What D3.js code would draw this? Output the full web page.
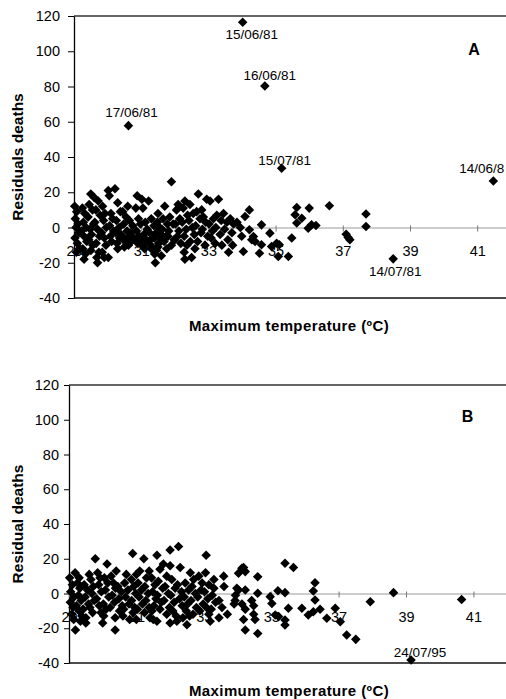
<!DOCTYPE html>
<html>
<head>
<meta charset="utf-8">
<script src="https://cdn.jsdelivr.net/npm/d3@7"></script>
<style>
  body { margin: 0; background: #fff; }
  svg { display: block; font-family: "Liberation Sans", Arial, sans-serif; }
</style>
</head>
<body>
<svg id="chart" width="506" height="699"></svg>
<script>
// temperature ticks and residual ticks, shared by both panels
const tempTicks = [29, 31, 33, 35, 37, 39, 41];
const residTicks = [-40, -20, 0, 20, 40, 60, 80, 100, 120];

// panel A: [max temperature (C), residual deaths]
const pointsA = [
  [29.02,12],[29.08,9],[29.04,5],[29.12,2],[29.06,0],[29.15,-3],[29.03,-6],[29.1,-9],[29.18,-12],[29.07,-14],
  [29.25,11],[29.32,8],[29.28,3],[29.36,0],[29.22,-2],[29.3,-5],[29.38,-8],[29.26,-12],[29.34,-15],[29.3,-18],
  [29.5,19],[29.45,13],[29.55,10],[29.42,6],[29.58,2],[29.48,-1],[29.52,-4],[29.44,-7],[29.56,-10],[29.5,-13],
  [29.72,15],[29.65,10],[29.78,7],[29.62,3],[29.7,-1],[29.76,-5],[29.66,-9],[29.74,-14],[29.68,-17],[29.7,-20],[29.6,17],
  [29.85,12],[29.92,8],[29.88,4],[29.96,0],[29.82,-3],[29.9,-6],[29.95,-10],[29.84,-14],[29.9,-17],
  [30.02,21],[30.05,18],[30.1,8],[30.15,5],[30.06,1],[30.18,-2],[30.08,-5],[30.12,-8],[30.02,-17],
  [30.22,22],[30.3,14],[30.38,9],[30.26,4],[30.34,0],[30.25,-3],[30.36,-6],[30.28,-9],[30.3,-12],
  [30.45,9],[30.55,6],[30.48,2],[30.58,-2],[30.44,-5],[30.52,-8],[30.4,-4],[30.5,-11],[30.6,12],
  [30.65,4],[30.75,1],[30.68,-3],[30.78,-6],[30.62,-10],[30.6,-6],[30.7,-8],
  [30.88,18],[30.84,11],[30.92,5],[30.98,2],[30.86,-2],[30.95,-5],[30.9,-9],[30.8,-7],
  [31.02,16],[31.05,11],[31.12,3],[31.18,-1],[31.08,-4],[31.15,-7],[31.04,-10],[31.0,-6],[31.1,-12],
  [31.22,15],[31.3,5],[31.38,1],[31.25,-3],[31.35,-6],[31.28,-10],[31.4,-15],[31.42,-20],[31.2,-8],[31.3,-12],
  [31.48,3],[31.55,0],[31.45,-3],[31.58,-6],[31.52,-9],[31.46,-13],[31.4,-6],[31.5,-11],[31.5,8],
  [31.7,12],[31.65,5],[31.78,2],[31.62,-1],[31.74,-5],[31.68,-8],[31.76,-12],[31.6,-4],[31.6,-16],
  [31.9,26],[31.85,6],[31.95,2],[31.82,-2],[31.98,-7],[31.8,-5],[31.9,-10],
  [32.05,10],[32.15,5],[32.02,2],[32.12,-2],[32.08,-5],[32.18,-9],[32.0,-7],[32.1,13],
  [32.3,15],[32.25,11],[32.38,7],[32.22,3],[32.34,-1],[32.28,-5],[32.36,-10],[32.28,-14],[32.3,-18],
  [32.45,13],[32.55,8],[32.42,4],[32.52,0],[32.58,-4],[32.46,-8],[32.5,-17],[32.6,-12],
  [32.7,19],[32.65,9],[32.75,5],[32.62,1],[32.78,-3],[32.68,-8],[32.8,10],
  [32.95,16],[32.85,6],[32.92,3],[32.82,-1],[32.98,-5],[32.9,-10],
  [33.05,15],[33.15,5],[33.02,2],[33.12,-2],[33.08,-6],[33.2,-9],
  [33.3,16],[33.25,7],[33.38,4],[33.22,0],[33.35,-4],[33.4,-10],
  [33.45,8],[33.55,3],[33.48,-1],[33.58,-7],[33.6,-14],
  [33.65,5],[33.75,2],[33.7,-3],[33.72,-10],
  [33.85,3],[33.95,0],[33.99,-5],[34.04,-13.6],
  [34.22,10],[34.09,6.2],[34.22,-1.3],[34.34,-5.1],[34.29,-7],[34.39,-7.9],
  [34.58,1.5],[34.58,-9.8],[34.52,-14.6],[34.83,-3.2],[34.88,-10.8],[35.03,-8.9],[35.11,-9.8],
  [35.08,-16.4],[35.38,-16.4],[35.48,-6],[35.63,11.3],[35.58,7.2],[35.63,2.5],[35.78,5.3],
  [36.0,11],[35.97,-0.4],[36.07,1.5],[36.2,1.1],[36.6,12.3],
  [37.1,-3.8],[37.16,-5.7],[37.21,-7],[37.69,7.6],[37.69,0.6]
];
// panel A labelled days
const notesA = [
  { date: "15/06/81", temp: 34.02, resid: 116.4 },
  { date: "16/06/81", temp: 34.68, resid: 80.3 },
  { date: "17/06/81", temp: 30.62, resid: 57.8 },
  { date: "15/07/81", temp: 35.18, resid: 33.6 },
  { date: "14/06/8",  temp: 41.48, resid: 26.4 },
  { date: "14/07/81", temp: 38.5,  resid: -17.8 }
];

// panel B: [max temperature (C), residual deaths]
const pointsB = [
  [29.02,9],[29.1,5],[29.05,1],[29.15,-2],[29.04,-5],[29.12,-8],[29.08,-12],[29.14,-15],[29.19,-21],[29.18,12],
  [29.25,6],[29.32,3],[29.28,-1],[29.36,-4],[29.22,-7],[29.3,-10],[29.38,-13],[29.34,-16],[29.3,9],
  [29.45,5],[29.55,2],[29.48,-2],[29.58,-6],[29.42,-9],[29.5,-14],[29.6,11],[29.5,-17],
  [29.78,20],[29.65,8],[29.72,4],[29.68,0],[29.75,-4],[29.62,-8],[29.7,-11],
  [29.85,12],[29.92,9],[29.88,5],[29.96,1],[29.82,-3],[29.9,-7],[29.95,-11],[30.0,-17],
  [30.13,17],[30.05,9],[30.15,6],[30.08,2],[30.18,-2],[30.02,-6],[30.1,-9],[30.03,-13],
  [30.25,10],[30.32,6],[30.38,3],[30.28,-1],[30.35,-5],[30.22,-8],[30.37,-14],[30.37,-21],[30.4,13],
  [30.45,4],[30.55,1],[30.48,-3],[30.58,-7],[30.5,-10],[30.6,-13],
  [30.7,11],[30.65,6],[30.75,2],[30.68,-2],[30.78,-6],[30.62,-9],[30.8,-15],
  [30.89,23],[30.85,8],[30.92,4],[30.98,0],[30.86,-4],[30.95,-8],[30.9,-11],
  [31.0,11],[31.1,13],[31.05,6],[31.15,2],[31.08,-2],[31.18,-6],[31.03,-9],[31.0,-15],
  [31.22,20],[31.3,9],[31.38,13],[31.25,4],[31.35,0],[31.28,-4],[31.38,-8],[31.24,-11],[31.4,-14],
  [31.45,9],[31.55,5],[31.48,1],[31.58,-3],[31.52,-7],[31.46,-10],[31.5,-15],
  [31.61,22],[31.7,14],[31.65,7],[31.78,3],[31.62,-1],[31.74,-5],[31.61,-16],[31.7,-9],[31.8,17],
  [31.9,10],[31.85,4],[31.95,0],[31.82,-4],[31.98,-8],[31.9,-12],
  [32.0,25],[32.0,16],[32.05,8],[32.15,3],[32.02,-1],[32.12,-5],[32.08,-10],[32.18,-13],[32.0,-17],
  [32.25,27],[32.3,15],[32.22,5],[32.34,1],[32.28,-3],[32.36,-7],[32.2,-16],[32.38,-14],
  [32.45,6],[32.55,2],[32.42,-2],[32.52,-6],[32.58,-13],[32.48,-10],[32.5,-18],
  [32.7,8],[32.65,4],[32.75,0],[32.62,-4],[32.78,-8],[32.68,-12],[32.6,12],
  [32.85,10],[32.95,6],[32.92,2],[32.82,-2],[32.98,-6],[32.88,-10],
  [33.07,22],[33.05,12],[33.15,5],[33.02,1],[33.12,-3],[33.08,-8],[33.19,-16],[33.15,-12],
  [33.3,3],[33.25,-1],[33.35,-5],[33.22,-9],[33.3,8],
  [33.59,10],[33.54,-8],[33.45,-4],[33.6,4],[33.7,-12],[33.45,-14],
  [33.94,-1],[33.98,3],[33.9,-6],
  [34.13,14.5],[34.23,12.6],[34.03,11.6],[34.18,15],[34.6,9.7],[35.41,17.4],[35.66,15],
  [34.03,2],[34.23,2],[34.6,0.1],[35.2,1.6],[35.41,0.5],[36.3,6.2],[36.25,1.4],[36.3,-3.7],
  [33.93,-4],[34.13,-6],[34.42,-4],[34.48,-7],[34.23,-9],[34.18,-15],[34.48,-12],[34.52,-15],
  [34.23,-21],[34.6,-23],[34.97,-1.8],[35.02,-5.7],[35.12,-12.4],[35.22,-13.3],[35.41,-15.3],
  [35.41,-18.1],[35.51,-8.5],[35.91,-8.5],[36.1,-12.4],[36.25,-10.5],[36.45,-9.1],[36.65,-14.3],
  [36.9,-8.5],[37.05,-16.2],[37.24,-23.9],[37.51,-26.4],[37.94,-4.7],[38.63,0.5],[40.65,-3.4]
];
const notesB = [
  { date: "24/07/95", temp: 39.15, resid: -38.3 }
];

// where each date label sits relative to its point (px)
const noteOffset = {
  "15/06/81": [9, 17], "16/06/81": [5, -6], "17/06/81": [3, -9],
  "15/07/81": [3, -3], "14/06/8": [-34, -8], "14/07/81": [2, 17],
  "24/07/95": [9, -3]
};

const svg = d3.select("svg#chart");
const diamond = d3.symbol().type(d3.symbolDiamond2).size(58);

function drawPanel(cfg) {
  const x = d3.scaleLinear().domain([29, 43]).range([cfg.left, cfg.left + 14 * cfg.pxPerDeg]);
  const y = d3.scaleLinear().domain([-40, 120]).range([cfg.bottom, cfg.top]);
  const g = svg.append("g");

  // frame: top and bottom border, left axis
  g.append("line").attr("x1", cfg.left).attr("x2", 520).attr("y1", cfg.top).attr("y2", cfg.top)
      .attr("stroke", "#333").attr("stroke-width", 1.3);
  g.append("line").attr("x1", cfg.left).attr("x2", 520).attr("y1", cfg.bottom).attr("y2", cfg.bottom)
      .attr("stroke", "#111").attr("stroke-width", 1.5);

  const yAxis = g.append("g")
      .attr("transform", "translate(" + cfg.left + ",0)")
      .call(d3.axisLeft(y).tickValues(residTicks).tickFormat(d => String(d))
        .tickSize(cfg.yTick).tickPadding(cfg.yPad).tickSizeOuter(0));
  yAxis.select(".domain").attr("stroke", "#000").attr("stroke-width", 1.3);
  yAxis.selectAll("text").attr("font-size", 14.5).attr("font-family", "Liberation Sans, Arial").attr("fill", "#000");

  // zero line with temperature ticks
  const xAxis = g.append("g")
      .attr("transform", "translate(0," + y(0) + ")")
      .call(d3.axisBottom(x).tickValues(tempTicks).tickSize(4).tickPadding(14).tickSizeOuter(0));
  xAxis.select(".domain").attr("stroke", "#999").attr("stroke-width", 1);
  xAxis.selectAll(".tick line").attr("y1", -2).attr("stroke", "#777");
  xAxis.selectAll("text").attr("font-size", 14.5).attr("font-family", "Liberation Sans, Arial").attr("fill", "#000");

  g.append("g").selectAll("path")
      .data(cfg.points)
      .enter().append("path")
      .attr("d", diamond)
      .attr("transform", d => "translate(" + x(d[0]) + "," + y(d[1]) + ")")
      .attr("fill", "#000");

  g.append("g").selectAll("path")
      .data(cfg.notes)
      .enter().append("path")
      .attr("d", diamond)
      .attr("transform", d => "translate(" + x(d.temp) + "," + y(d.resid) + ")")
      .attr("fill", "#000");

  g.append("g").selectAll("text")
      .data(cfg.notes)
      .enter().append("text")
      .attr("x", d => x(d.temp) + noteOffset[d.date][0])
      .attr("y", d => y(d.resid) + noteOffset[d.date][1])
      .attr("text-anchor", d => d.date === "14/06/8" ? "start" : "middle")
      .attr("font-size", 13.5)
      .text(d => d.date);

  g.append("text")
      .attr("transform", "translate(23," + (cfg.top + cfg.bottom) / 2 + ") rotate(-90)")
      .attr("text-anchor", "middle")
      .attr("font-size", 15.5)
      .attr("font-weight", "bold")
      .text(cfg.yTitle);

  g.append("text")
      .attr("x", 289)
      .attr("y", cfg.xTitleY)
      .attr("text-anchor", "middle")
      .attr("font-size", 15)
      .attr("font-weight", "bold")
      .attr("letter-spacing", 0.4)
      .text("Maximum temperature (\u00baC)");

  g.append("text")
      .attr("x", cfg.letter[0])
      .attr("y", cfg.letter[1])
      .attr("text-anchor", "middle")
      .attr("font-size", 16)
      .attr("font-weight", "bold")
      .text(cfg.name);
}

drawPanel({ name: "A", left: 74, top: 16, bottom: 298, pxPerDeg: 33.6, yTick: 6, yPad: 8,
            yTitle: "Residuals deaths", xTitleY: 331, letter: [474, 55], points: pointsA, notes: notesA });
drawPanel({ name: "B", left: 69, top: 385, bottom: 663, pxPerDeg: 33.7, yTick: 5, yPad: 5,
            yTitle: "Residual deaths", xTitleY: 696, letter: [467.5, 422], points: pointsB, notes: notesB });
</script>
</body>
</html>
